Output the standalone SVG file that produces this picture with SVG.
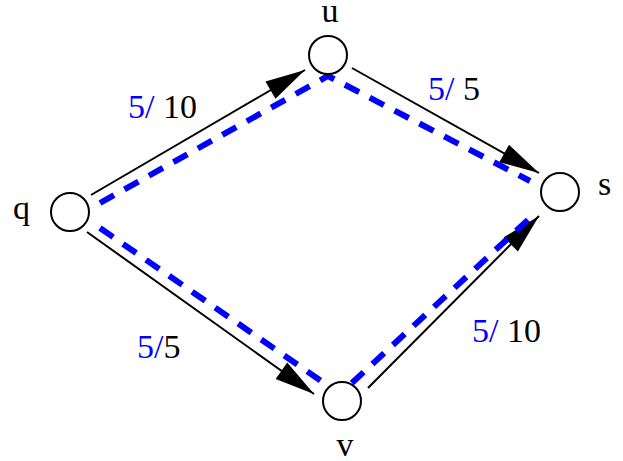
<svg xmlns="http://www.w3.org/2000/svg" width="623" height="461" viewBox="0 0 623 461">
<style>
.node{fill:#fff;stroke:#000;stroke-width:2}
.edge{fill:none;stroke:#000;stroke-width:2}
.flow{fill:none;stroke:#0000ff;stroke-width:6;stroke-dasharray:16 12}
text{font-family:"Liberation Serif","Times New Roman",serif;font-size:34px;fill:#000}
.b{fill:#0000ff}
</style>
<defs>
<marker id="arr" viewBox="0 0 40 20" refX="40" refY="10" markerWidth="40" markerHeight="20" markerUnits="userSpaceOnUse" orient="auto" overflow="visible">
<path d="M0,0 L40,10 L0,20 Z" fill="#000"/>
</marker>
</defs>
<g id="connectors">
<path class="edge" d="M91,195 L305,70" marker-end="url(#arr)"/>
<path class="edge" d="M352,68 L539,173" marker-end="url(#arr)"/>
<path class="edge" d="M87,232 L314,394" marker-end="url(#arr)"/>
<path class="edge" d="M368,388 L539,216" marker-end="url(#arr)"/>
<path class="flow" d="M100,203 L328,76 L530,181"/>
<path class="flow" d="M100,228 L340,394 L530,218"/>
</g>
<g id="node-q"><circle class="node" cx="70" cy="212" r="19"/><text x="13" y="219">q</text></g>
<g id="node-u"><circle class="node" cx="328" cy="55" r="19"/><text x="330" y="22" text-anchor="middle">u</text></g>
<g id="node-s"><circle class="node" cx="560" cy="192" r="19"/><text x="598" y="195">s</text></g>
<g id="node-v"><circle class="node" cx="342" cy="401" r="19"/><text x="345" y="456" text-anchor="middle">v</text></g>
<g id="labels">
<text x="128" y="118"><tspan class="b">5/</tspan> 10</text>
<text x="428" y="100"><tspan class="b">5/</tspan> 5</text>
<text x="137" y="358"><tspan class="b">5/</tspan>5</text>
<text x="472" y="342"><tspan class="b">5/</tspan> 10</text>
</g>
</svg>
